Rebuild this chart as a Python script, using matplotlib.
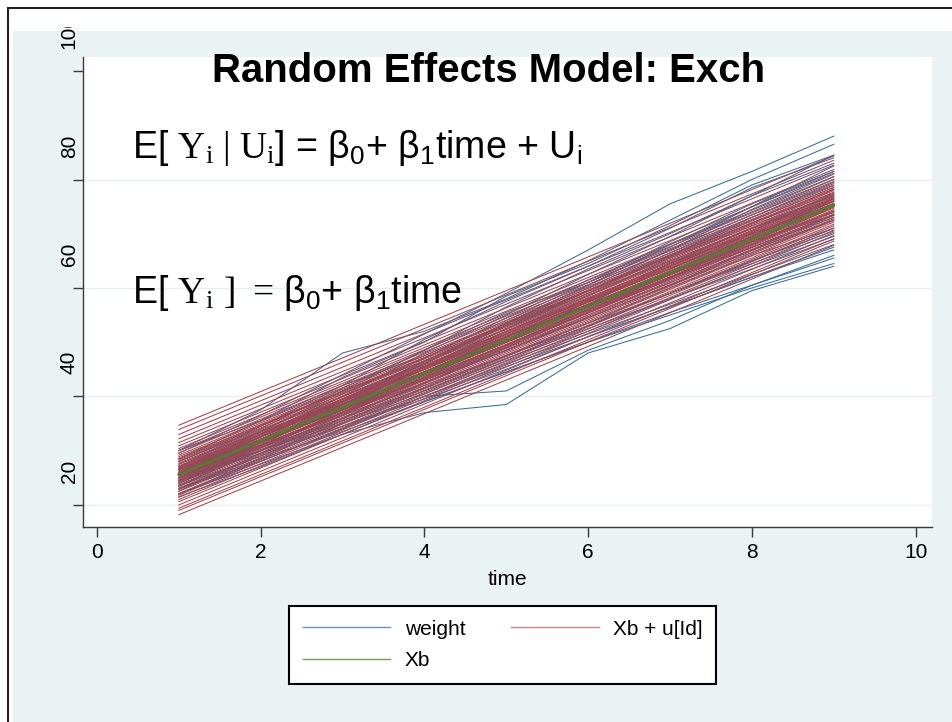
"""Random effects model (exchangeable) for the pig weight data:
observed weights, subject-specific fitted lines Xb + u[Id] and the
population line Xb, drawn in the Stata s2color look.
"""

import matplotlib

matplotlib.use('Agg')
import matplotlib.pyplot as plt
from matplotlib.lines import Line2D
from matplotlib.patches import Rectangle
from matplotlib.transforms import ScaledTranslation

plt.rcParams['font.family'] = ['Liberation Sans', 'DejaVu Sans']
plt.rcParams['mathtext.fontset'] = 'custom'
plt.rcParams['mathtext.rm'] = 'Liberation Serif'
plt.rcParams['mathtext.sf'] = 'Liberation Sans'
plt.rcParams['mathtext.it'] = 'Liberation Serif:italic'
plt.rcParams['mathtext.default'] = 'regular'

NAVY = '#3b6b94'
MAROON = '#a6434c'
FOREST = '#5a7a30'
BLUISH = '#eaf2f3'

time = [1, 2, 3, 4, 5, 6, 7, 8, 9]

# fitted population line (beta0 + beta1*time) at each week
xb = [25.57, 31.78, 37.99, 44.20, 50.41, 56.62, 62.83, 69.04, 75.25]

# observed weights, one row per pig (weeks 1..9)
weights = [
    [29.5, 36.5, 44.0, 51.5, 59.0, 67.0, 75.5, 81.5, 88.0],
    [30.0, 37.5, 48.0, 52.0, 58.0, 65.0, 72.5, 80.0, 86.5],
    [28.5, 35.5, 43.5, 50.0, 58.5, 64.5, 71.5, 79.0, 84.5],
    [27.0, 34.5, 42.0, 50.5, 57.5, 64.0, 71.0, 78.5, 84.0],
    [28.0, 34.0, 41.5, 48.5, 56.5, 63.5, 70.0, 77.0, 84.5],
    [26.5, 33.0, 40.0, 48.0, 55.0, 62.5, 69.5, 77.0, 83.0],
    [30.0, 35.5, 42.0, 47.5, 54.0, 61.0, 68.5, 75.5, 81.5],
    [26.0, 33.5, 41.0, 48.5, 55.5, 61.0, 67.5, 75.0, 82.5],
    [27.5, 33.5, 40.5, 47.0, 54.5, 61.5, 68.0, 74.0, 80.5],
    [25.5, 32.5, 39.5, 46.0, 53.5, 60.5, 68.0, 75.0, 81.5],
    [28.0, 34.5, 41.0, 46.5, 53.0, 59.5, 66.5, 73.0, 79.0],
    [25.0, 32.0, 39.5, 46.5, 53.5, 60.5, 67.0, 74.5, 81.0],
    [26.5, 33.0, 40.0, 46.0, 53.0, 59.0, 66.0, 72.5, 78.5],
    [27.0, 33.5, 39.0, 45.5, 52.5, 59.5, 66.0, 72.0, 77.5],
    [24.5, 31.5, 39.0, 46.5, 53.0, 59.5, 66.0, 73.0, 79.5],
    [26.0, 32.5, 38.5, 45.0, 52.0, 58.5, 65.5, 71.5, 77.0],
    [25.0, 32.0, 38.0, 45.5, 52.5, 59.0, 65.0, 71.0, 76.5],
    [27.0, 33.0, 39.5, 45.0, 51.0, 57.5, 64.0, 70.5, 77.5],
    [26.5, 31.5, 38.0, 44.5, 51.0, 57.0, 64.5, 71.0, 76.0],
    [24.0, 31.0, 38.5, 45.5, 52.0, 58.0, 64.5, 70.0, 75.5],
    [25.5, 32.5, 39.0, 44.5, 50.5, 57.0, 63.0, 69.5, 76.5],
    [26.5, 32.0, 37.5, 44.0, 50.0, 57.5, 63.5, 70.0, 75.0],
    [23.5, 30.5, 37.5, 44.5, 51.0, 57.5, 63.5, 69.5, 76.0],
    [25.0, 31.5, 38.5, 44.0, 50.0, 56.0, 62.5, 69.5, 76.0],
    [26.0, 32.0, 37.5, 43.5, 49.5, 56.0, 62.0, 68.5, 74.0],
    [24.5, 30.5, 37.0, 43.5, 50.5, 56.5, 62.5, 68.0, 75.0],
    [25.5, 31.0, 37.0, 42.5, 49.0, 55.5, 62.0, 68.5, 73.5],
    [23.5, 30.0, 36.5, 43.5, 49.5, 56.0, 62.0, 67.5, 73.0],
    [25.0, 31.5, 37.5, 43.0, 48.5, 54.5, 60.5, 67.0, 72.5],
    [24.0, 30.0, 36.0, 42.5, 48.5, 55.0, 61.0, 67.0, 73.5],
    [26.0, 31.0, 36.5, 42.0, 47.5, 53.5, 60.0, 66.0, 71.0],
    [22.5, 29.5, 36.0, 42.5, 48.5, 54.5, 60.5, 66.5, 72.5],
    [24.0, 30.5, 36.0, 41.5, 47.5, 53.0, 59.0, 65.0, 71.0],
    [25.0, 30.0, 35.5, 41.0, 47.0, 53.0, 59.0, 64.5, 70.0],
    [23.0, 29.0, 35.5, 41.5, 47.5, 53.5, 59.0, 65.0, 70.5],
    [24.5, 30.0, 35.0, 40.5, 46.5, 52.0, 58.0, 63.5, 69.0],
    [22.0, 28.5, 35.0, 41.0, 47.0, 52.5, 58.0, 64.0, 69.5],
    [23.5, 29.0, 34.5, 40.0, 46.0, 51.5, 57.0, 62.5, 68.0],
    [24.5, 29.5, 34.5, 39.5, 45.0, 51.0, 56.5, 62.0, 67.0],
    [22.0, 28.0, 34.0, 40.0, 45.5, 51.0, 56.5, 62.0, 67.5],
    [23.0, 28.5, 33.5, 39.0, 44.5, 50.0, 55.5, 60.5, 66.0],
    [21.5, 27.0, 33.0, 39.0, 44.5, 50.0, 55.0, 60.0, 64.5],
    [22.0, 27.5, 33.0, 37.0, 38.5, 48.0, 52.5, 59.5, 64.0],
    [23.0, 28.0, 34.0, 40.0, 41.0, 48.5, 54.0, 60.5, 65.5],
    [25.5, 33.0, 38.5, 45.0, 51.5, 58.0, 64.5, 71.0, 77.0],
    [24.0, 31.5, 37.5, 43.0, 49.0, 55.5, 61.5, 67.5, 73.5],
    [26.5, 32.5, 39.0, 46.0, 53.5, 60.0, 67.0, 73.5, 80.0],
    [25.0, 31.0, 37.0, 44.5, 51.0, 56.5, 62.5, 68.5, 75.5],
]

# predicted random intercepts u[Id], same order as weights
u_id = [9.1, 8.3, 7.4, 6.6, 5.9, 5.3, 4.8, 4.4, 4.0, 3.6, 3.3, 3.0,
        2.7, 2.4, 2.1, 1.9, 1.6, 1.4, 1.1, 0.9, 0.7, 0.4, 0.2, 0.0,
        -0.3, -0.5, -0.8, -1.0, -1.3, -1.6, -1.9, -2.2, -2.5, -2.8, -3.1, -3.5,
        -3.8, -4.2, -4.6, -5.0, -5.6, -6.2, -7.4, -6.6, 1.2, -1.1, 2.9, -0.1]

x_ticks = [0, 2, 4, 6, 8, 10]
y_ticks = [20, 40, 60, 80, 100]

W, H = 952, 722


def fx(px):
    return px / W


def fy(py):
    return 1 - py / H


fig = plt.figure(figsize=(W / 100, H / 100), dpi=100, facecolor='white')

# graph region and crop border
fig.patches.append(Rectangle((fx(13), 0), 1 - fx(13), fy(31), transform=fig.transFigure,
                             facecolor=BLUISH, edgecolor='none', zorder=-10))

ax = fig.add_axes([fx(83), fy(527), fx(932) - fx(83), fy(57) - fy(527)])
ax.set_facecolor('white')

for row in weights:
    ax.plot(time, row, color=NAVY, lw=0.75, zorder=2)
for u in u_id:
    ax.plot(time, [v + u for v in xb], color=MAROON, lw=0.75, zorder=3)
ax.plot(time, xb, color=FOREST, lw=1.9, zorder=4)

ax.set_xlim(-0.17, 10.2)
ax.set_ylim(15.9, 102.6)
ax.set_xticks(x_ticks)
ax.set_yticks(y_ticks)
for y in y_ticks[:-1]:
    ax.axhline(y, color='#e8efef', lw=1.0, zorder=1)

for side in ('top', 'right'):
    ax.spines[side].set_visible(False)
for side in ('left', 'bottom'):
    ax.spines[side].set_color('#3a3a3a')
    ax.spines[side].set_linewidth(1.0)

ax.tick_params(axis='both', direction='out', length=7.5, width=1.0, color='#3a3a3a',
               labelsize=15)
ax.tick_params(axis='x', pad=4)
ax.tick_params(axis='y', pad=-4.5, labelrotation=90)
shift = ScaledTranslation(0, 22 / 100, fig.dpi_scale_trans)
for tick in ax.yaxis.get_major_ticks():
    tick.label1.set_va('bottom')
    tick.label1.set_transform(tick.label1.get_transform() + shift)

ax.set_xlabel('time', fontsize=15, labelpad=6)

handles = [Line2D([], [], color='#6b93b5', lw=1.0), Line2D([], [], color='#cf8489', lw=1.0),
           Line2D([], [], color='#7d9a55', lw=1.0)]
leg = fig.legend([handles[0], handles[2], handles[1]], ['weight', 'Xb', 'Xb + u[Id]'],
                 ncol=2, loc='upper left', bbox_to_anchor=(fx(289), fy(606)),
                 fontsize=15, frameon=True, fancybox=False, framealpha=1,
                 facecolor='white', handlelength=4.2, handletextpad=0.7,
                 columnspacing=2.2, labelspacing=0.6, borderpad=0.65,
                 borderaxespad=0)
leg.get_frame().set_edgecolor('black')
leg.get_frame().set_linewidth(1.5)

fig.text(fx(489), fy(82), 'Random Effects Model: Exch', ha='center', va='baseline',
         fontsize=28.9, fontweight='bold')
fig.text(fx(132), fy(158),
         r'E[ $\mathrm{Y_i}\ \mathrm{|}\ \mathrm{U_i}$] = β$_0$+ β$_1$time + U$_i$',
         ha='left', va='baseline', fontsize=27)
fig.text(fx(132), fy(303), r'E[ $\mathrm{Y_i}$ $\mathrm{]}$ $\mathrm{{=}}\,$β$_0$+ β$_1$time',
         ha='left', va='baseline', fontsize=27)

# white cover over the clipped top and the thin crop frame
fig.patches.append(Rectangle((0, fy(26.5)), 1, 1 - fy(26.5), transform=fig.transFigure,
                             facecolor='white', edgecolor='none', zorder=20))
fig.lines.append(Line2D([fx(8), 1], [fy(8), fy(8)], transform=fig.transFigure,
                        color='#222222', lw=1.5, zorder=21))
fig.lines.append(Line2D([fx(8), fx(8)], [0, fy(8)], transform=fig.transFigure,
                        color='#222222', lw=1.5, zorder=21))

fig.savefig('out.png', dpi=100)
